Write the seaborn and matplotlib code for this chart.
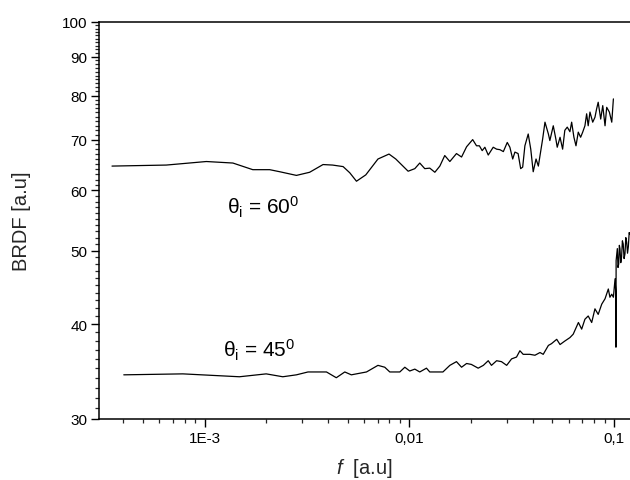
import numpy as np
import pandas as pd
import matplotlib
matplotlib.use("Agg")
import matplotlib.pyplot as plt
import matplotlib.ticker as mticker
import seaborn as sns

# ---------------- data ----------------
f_60 = [3.53e-4, 6.50e-4, 1.02e-3, 1.375e-3, 1.72e-3, 2.08e-3, 2.33e-3, 2.81e-3,
        3.26e-3, 3.79e-3, 4.22e-3, 4.75e-3, 5.12e-3, 5.52e-3, 6.13e-3, 7.03e-3,
        7.96e-3, 8.59e-3, 9.87e-3, 1.064e-2, 1.125e-2, 1.19e-2, 1.259e-2, 1.333e-2,
        1.41e-2, 1.49e-2, 1.578e-2, 1.70e-2, 1.80e-2, 1.905e-2, 2.04e-2, 2.13e-2,
        2.20e-2, 2.27e-2, 2.34e-2, 2.43e-2, 2.57e-2, 2.67e-2, 2.77e-2, 2.88e-2,
        3.01e-2, 3.10e-2, 3.20e-2, 3.28e-2, 3.40e-2, 3.50e-2, 3.58e-2, 3.67e-2,
        3.81e-2, 3.92e-2, 4.03e-2, 4.16e-2, 4.27e-2, 4.48e-2, 4.60e-2, 4.78e-2,
        4.86e-2, 5.05e-2, 5.20e-2, 5.28e-2, 5.45e-2, 5.61e-2, 5.75e-2, 5.91e-2,
        6.09e-2, 6.21e-2, 6.37e-2, 6.52e-2, 6.69e-2, 6.87e-2, 7.03e-2, 7.21e-2,
        7.35e-2, 7.48e-2, 7.63e-2, 7.87e-2, 8.07e-2, 8.22e-2, 8.37e-2, 8.61e-2,
        8.81e-2, 9.04e-2, 9.21e-2, 9.49e-2, 9.75e-2, 9.93e-2]
brdf_60 = [64.6, 64.8, 65.5, 65.2, 63.9, 63.9, 63.5, 62.8,
           63.4, 64.9, 64.8, 64.5, 63.3, 61.7, 62.9, 66.0,
           67.0, 66.0, 63.6, 64.1, 65.2, 64.1, 64.2, 63.4,
           64.6, 66.7, 65.5, 67.1, 66.4, 68.5, 70.0, 68.7,
           68.7, 67.7, 68.4, 66.8, 68.4, 68.0, 67.9, 67.5,
           69.4, 68.4, 66.0, 67.4, 67.1, 64.1, 64.4, 68.7,
           71.2, 68.0, 63.5, 66.0, 64.6, 70.1, 73.8, 71.2,
           69.8, 73.0, 70.1, 68.4, 70.5, 68.0, 72.0, 72.7,
           71.7, 73.8, 70.5, 68.7, 71.6, 70.5, 71.6, 73.0,
           75.7, 73.0, 76.1, 73.8, 74.9, 76.8, 78.4, 74.5,
           77.6, 73.0, 77.2, 76.1, 73.8, 79.2]

f_45 = [4.03e-4, 7.83e-4, 1.48e-3, 2.00e-3, 2.41e-3, 2.81e-3, 3.20e-3, 3.65e-3,
        3.94e-3, 4.40e-3, 4.84e-3, 5.21e-3, 6.18e-3, 7.03e-3, 7.59e-3, 8.03e-3,
        8.99e-3, 9.51e-3, 1.005e-2, 1.064e-2, 1.125e-2, 1.213e-2, 1.259e-2, 1.46e-2,
        1.578e-2, 1.70e-2, 1.80e-2, 1.905e-2, 2.01e-2, 2.17e-2, 2.30e-2, 2.43e-2,
        2.52e-2, 2.67e-2, 2.82e-2, 2.99e-2, 3.16e-2, 3.34e-2, 3.47e-2, 3.60e-2,
        3.88e-2, 4.11e-2, 4.35e-2, 4.51e-2, 4.78e-2, 4.95e-2, 5.25e-2, 5.45e-2,
        5.75e-2, 6.09e-2, 6.32e-2, 6.70e-2, 6.95e-2, 7.21e-2, 7.48e-2, 7.78e-2,
        8.07e-2, 8.37e-2, 8.71e-2, 9.04e-2, 9.38e-2, 9.55e-2, 9.75e-2, 9.93e-2,
        1.012e-1, 1.020e-1, 1.022e-1, 1.024e-1, 1.038e-1, 1.046e-1, 1.054e-1,
        1.062e-1, 1.069e-1, 1.079e-1, 1.089e-1, 1.099e-1, 1.109e-1, 1.120e-1,
        1.131e-1, 1.142e-1, 1.153e-1, 1.164e-1, 1.175e-1, 1.186e-1, 1.197e-1]
brdf_45 = [34.3, 34.4, 34.1, 34.4, 34.1, 34.3, 34.6, 34.6,
           34.6, 34.0, 34.6, 34.3, 34.6, 35.3, 35.1, 34.6,
           34.6, 35.1, 34.7, 34.9, 34.6, 35.0, 34.6, 34.6,
           35.3, 35.7, 35.1, 35.5, 35.4, 35.0, 35.3, 35.8,
           35.3, 35.8, 35.7, 35.3, 36.0, 36.2, 36.9, 36.5,
           36.5, 36.4, 36.7, 36.5, 37.5, 37.7, 38.2, 37.6,
           38.0, 38.4, 38.8, 40.2, 39.4, 40.6, 41.0, 40.2,
           41.9, 41.2, 42.5, 43.2, 44.5, 43.4, 43.8, 43.4,
           45.9, 44.0, 37.3, 48.5, 50.3, 47.5, 48.0,
           50.8, 50.3, 48.2, 49.1, 51.5, 51.0, 48.8,
           49.5, 52.0, 51.3, 49.6, 50.6, 52.8, 52.5]

x_tick_values = [1e-3, 1e-2, 1e-1]
x_tick_labels = ["1E-3", "0,01", "0,1"]
y_tick_values = [30, 40, 50, 60, 70, 80, 90, 100]
labels = [r"θ$_{\mathrm{i}}$ = 60$^{0}$", r"θ$_{\mathrm{i}}$ = 45$^{0}$"]
label_pos = [(1.28e-3, 55.9), (1.225e-3, 36.3)]

# ---------------- style ----------------
sns.set_style("ticks")
plt.rcParams["font.family"] = ["Liberation Sans", "DejaVu Sans"]
plt.rcParams["mathtext.fontset"] = "custom"
plt.rcParams["mathtext.rm"] = "Liberation Sans"
plt.rcParams["mathtext.it"] = "Liberation Sans:italic"
plt.rcParams["mathtext.bf"] = "Liberation Sans:bold"

df = pd.concat([
    pd.DataFrame({"f": f_60, "BRDF": brdf_60, "series": "60"}),
    pd.DataFrame({"f": f_45, "BRDF": brdf_45, "series": "45"}),
], ignore_index=True)

fig = plt.figure(figsize=(6.30, 4.81), dpi=100)
ax = fig.add_axes([99 / 630, 61 / 481, 531 / 630, 397 / 481])

sns.lineplot(data=df, x="f", y="BRDF", units="series", estimator=None,
             sort=False, color="black", linewidth=0.9, ax=ax, legend=False)

ax.set_xscale("log")
ax.set_yscale("log")
ax.set_xlim(3.05e-4, 0.1197)
ax.set_ylim(30, 100)

ax.xaxis.set_major_locator(mticker.FixedLocator(x_tick_values))
ax.xaxis.set_major_formatter(mticker.FixedFormatter(x_tick_labels))
ax.xaxis.set_minor_locator(mticker.LogLocator(base=10, subs=np.arange(2, 10), numticks=20))
ax.xaxis.set_minor_formatter(mticker.NullFormatter())

ax.yaxis.set_major_locator(mticker.FixedLocator(y_tick_values))
ax.yaxis.set_major_formatter(mticker.FixedFormatter([str(v) for v in y_tick_values]))
ax.yaxis.set_minor_locator(mticker.MultipleLocator(1))
ax.yaxis.set_minor_formatter(mticker.NullFormatter())

ax.tick_params(axis="both", which="major", direction="out", length=5.5, width=1.0,
               labelsize=11, colors="black", pad=3)
ax.tick_params(axis="both", which="minor", direction="out", length=3.0, width=0.9)

for side in ["left", "bottom", "top"]:
    ax.spines[side].set_visible(True)
    ax.spines[side].set_linewidth(1.1)
    ax.spines[side].set_color("black")
ax.spines["right"].set_visible(False)

ax.set_xlabel(r"$\it{f}$  [a.u]", fontsize=14.5, labelpad=8)
ax.set_ylabel("BRDF [a.u]", fontsize=14.5, labelpad=22)

for txt, (lx, ly) in zip(labels, label_pos):
    ax.text(lx, ly, txt, fontsize=15, ha="left", va="baseline", color="black")

fig.savefig("out.png", dpi=100)
